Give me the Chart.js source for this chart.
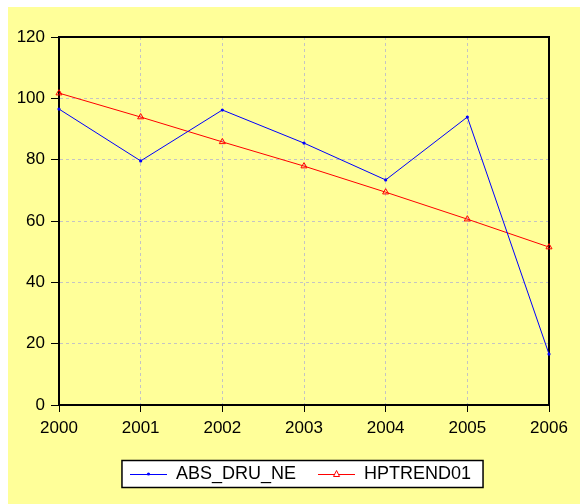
<!DOCTYPE html>
<html>
<head>
<meta charset="utf-8">
<script src="https://cdn.jsdelivr.net/npm/chart.js@4/dist/chart.umd.min.js"></script>
<style>
html,body{margin:0;padding:0;background:#fff;}
canvas{display:block;}
</style>
</head>
<body>
<canvas id="c" width="580" height="504"></canvas>
<script>
const years = ['2000','2001','2002','2003','2004','2005','2006'];
const absDruNe = [96.5, 79.6, 96.2, 85.4, 73.4, 93.9, 16.6];
const hpTrend01 = [101.7, 93.9, 85.8, 77.9, 69.4, 60.6, 51.5];
const yTicks = [0, 20, 40, 60, 80, 100, 120];
const seriesNames = ['ABS_DRU_NE', 'HPTREND01'];

const FONT = 'Liberation Sans, Arial, sans-serif';

function legendIcon(color, style) {
  const c = document.createElement('canvas');
  c.width = 37; c.height = 10;
  const x = c.getContext('2d');
  x.strokeStyle = color; x.lineWidth = 1;
  x.beginPath(); x.moveTo(0, 5.5); x.lineTo(37, 5.5); x.stroke();
  if (style === 'dot') {
    x.fillStyle = color;
    x.beginPath(); x.arc(18.5, 5, 1.6, 0, Math.PI * 2); x.fill();
  } else {
    x.fillStyle = '#ffffff';
    x.beginPath(); x.moveTo(18.5, 1.5); x.lineTo(21.5, 7.5); x.lineTo(15.5, 7.5); x.closePath();
    x.fill(); x.stroke();
  }
  return c;
}
const icons = [legendIcon('#0000ff', 'dot'), legendIcon('#ff0000', 'tri')];

const bgPlugin = {
  id: 'bg',
  afterLayout(chart) {
    const lg = chart.legend;
    if (lg) { const d = 22; lg.left += d; lg.right += d; }
  },
  beforeDraw(chart) {
    const ctx = chart.ctx;
    ctx.save();
    ctx.fillStyle = '#ffffff';
    ctx.fillRect(0, 0, chart.width, chart.height);
    ctx.fillStyle = '#ffff99';
    ctx.fillRect(8, 7, chart.width - 8, chart.height - 7);
    const lg = chart.legend;
    if (lg && lg.legendHitBoxes && lg.legendHitBoxes.length) {
      const hb = lg.legendHitBoxes;
      let l = Infinity, r = -Infinity, t = Infinity, b = -Infinity;
      hb.forEach(h => { l = Math.min(l, h.left); r = Math.max(r, h.left + h.width); t = Math.min(t, h.top); b = Math.max(b, h.top + h.height); });
      const cy = (t + b) / 2;
      ctx.fillStyle = '#ffffff';
      ctx.fillRect(l - 8, cy - 13.5, r - l + 20, 27);
      ctx.strokeStyle = '#000000';
      ctx.lineWidth = 1.5;
      ctx.strokeRect(l - 8, cy - 13.5, r - l + 20, 27);
    }
    ctx.restore();
  },
  beforeDatasetsDraw(chart) {
    const a = chart.chartArea, ctx = chart.ctx;
    ctx.save();
    ctx.strokeStyle = '#000';
    ctx.lineWidth = 2;
    ctx.strokeRect(a.left, a.top, a.right - a.left, a.bottom - a.top);
    ctx.restore();
  }
};

new Chart(document.getElementById('c'), {
  type: 'line',
  data: {
    labels: years,
    datasets: [
      {
        label: seriesNames[0],
        data: absDruNe,
        borderColor: '#0000ff',
        backgroundColor: '#0000ff',
        borderWidth: 1,
        pointStyle: 'circle',
        pointRadius: 1.6,
        pointBorderWidth: 0,
        tension: 0,
        clip: false
      },
      {
        label: seriesNames[1],
        data: hpTrend01,
        borderColor: '#ff0000',
        backgroundColor: 'rgba(0,0,0,0)',
        borderWidth: 1,
        pointStyle: 'triangle',
        pointRadius: 3.5,
        pointBorderWidth: 1,
        tension: 0,
        clip: false
      }
    ]
  },
  options: {
    responsive: false,
    devicePixelRatio: 1,
    animation: false,
    events: [],
    layout: { padding: { left: 8, right: 31, top: 37, bottom: 11 } },
    scales: {
      x: {
        type: 'category',
        offset: false,
        grid: { color: '#c4c4c4', tickColor: '#000', tickLength: 7, lineWidth: 1, drawOnChartArea: true },
        border: { display: true, color: '#000', width: 2, dash: [3, 3] },
        ticks: { color: '#000', font: { family: FONT, size: 17 }, padding: 6, maxRotation: 0, autoSkip: false },
        afterFit(s) { s.height = 38; }
      },
      y: {
        min: 0, max: 120,
        afterBuildTicks(s) { s.ticks = yTicks.map(v => ({ value: v })); },
        grid: { color: '#c4c4c4', tickColor: '#000', tickLength: 8, lineWidth: 1 },
        border: { display: true, color: '#000', width: 2, dash: [3, 3] },
        ticks: { color: '#000', font: { family: FONT, size: 17 }, padding: 6 },
        afterFit(s) { s.width = 51; }
      }
    },
    plugins: {
      title: { display: false },
      tooltip: { enabled: false },
      legend: {
        display: true,
        position: 'bottom',
        labels: {
          color: '#000',
          font: { family: FONT, size: 18 },
          usePointStyle: true,
          pointStyleWidth: 37,
          padding: 22,
          generateLabels(chart) {
            return chart.data.datasets.map((d, i) => ({
              text: d.label,
              pointStyle: icons[i],
              fillStyle: d.borderColor,
              strokeStyle: d.borderColor,
              lineWidth: 0,
              hidden: false,
              datasetIndex: i
            }));
          }
        }
      }
    }
  },
  plugins: [bgPlugin]
});
</script>
</body>
</html>
